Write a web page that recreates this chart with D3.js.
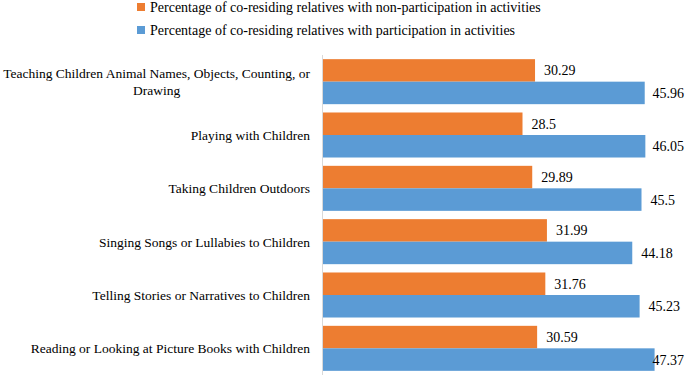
<!DOCTYPE html>
<html>
<head>
<meta charset="UTF-8">
<script src="https://d3js.org/d3.v7.min.js"></script>
</head>
<body style="margin:0">
<svg id="chart" width="685" height="375"></svg>
<script>
// data
var categories = [
    "Teaching Children Animal Names, Objects, Counting, or|Drawing",
    "Playing with Children",
    "Taking Children Outdoors",
    "Singing Songs or Lullabies to Children",
    "Telling Stories or Narratives to Children",
    "Reading or Looking at Picture Books with Children"
];
var seriesNames = [
    "Percentage of co-residing relatives with non-participation in activities",
    "Percentage of co-residing relatives with participation in activities"
];
var nonParticipation = [30.29, 28.5, 29.89, 31.99, 31.76, 30.59];
var participation = [45.96, 46.05, 45.5, 44.18, 45.23, 47.37];
var colors = ["#ED7D31", "#5B9BD5"];

var W = 685, H = 375;
var svg = d3.select("#chart");

var x = d3.scaleLinear().domain([0, 50]).range([323, 673]);
var y = d3.scaleBand().domain(categories).range([55, 375]).paddingInner(0.156).paddingOuter(0.078);
var sub = d3.scaleBand().domain([0, 1]).range([0, y.bandwidth()]);

var rows = categories.map(function (c, i) {
    return { cat: c, vals: [nonParticipation[i], participation[i]] };
});

function txt(sel, size) {
    sel.style("font-family", "'Liberation Serif'").attr("font-size", size || 14).attr("fill", "#000");
}

// legend
seriesNames.forEach(function (name, i) {
    svg.append("rect")
        .attr("x", 137).attr("y", 3 + i * 23)
        .attr("width", 8).attr("height", 8)
        .attr("fill", colors[i]);
    svg.append("text")
        .attr("x", 150).attr("y", 12 + i * 23)
        .call(txt)
        .text(name);
});

// axis line
svg.append("line")
    .attr("x1", x(0) - 0.5).attr("x2", x(0) - 0.5)
    .attr("y1", 55).attr("y2", H)
    .attr("stroke", "#d9d9d9").attr("stroke-width", 1);

// bars
var groups = svg.selectAll(".grp")
    .data(rows)
    .join("g")
    .attr("class", "grp")
    .attr("transform", function (d) { return "translate(0," + y(d.cat) + ")"; });

groups.selectAll("rect")
    .data(function (d) { return d.vals.map(function (v, k) { return { v: v, k: k }; }); })
    .join("rect")
    .attr("x", x(0))
    .attr("y", function (d) { return sub(d.k); })
    .attr("width", function (d) { return x(d.v) - x(0); })
    .attr("height", sub.bandwidth())
    .attr("fill", function (d) { return colors[d.k]; });

// value labels
groups.selectAll(".val")
    .data(function (d) { return d.vals.map(function (v, k) { return { v: v, k: k }; }); })
    .join("text")
    .attr("class", "val")
    .call(txt)
    .attr("y", function (d) { return sub(d.k) + sub.bandwidth() / 2 + 5; })
    .text(function (d) { return d.v; })
    .attr("x", function (d) {
        var w = this.getComputedTextLength();
        return Math.min(x(d.v) + 9, W - 1 - w);
    });

// category labels (wrapped ones: second line centred under the first)
groups.each(function (d) {
    var g = d3.select(this);
    var lines = d.cat.split("|");
    var mid = y.bandwidth() / 2;
    var lh = 17;
    var top = mid - (lines.length - 1) * lh / 2 + 5;
    var first = g.append("text")
        .call(txt, 13.5)
        .attr("text-anchor", "end")
        .attr("x", 310).attr("y", top)
        .text(lines[0]);
    var fw = first.node().getComputedTextLength();
    for (var i = 1; i < lines.length; i++) {
        g.append("text")
            .call(txt, 13.5)
            .attr("text-anchor", "middle")
            .attr("x", 310 - fw / 2).attr("y", top + i * lh)
            .text(lines[i]);
    }
});
</script>
</body>
</html>
